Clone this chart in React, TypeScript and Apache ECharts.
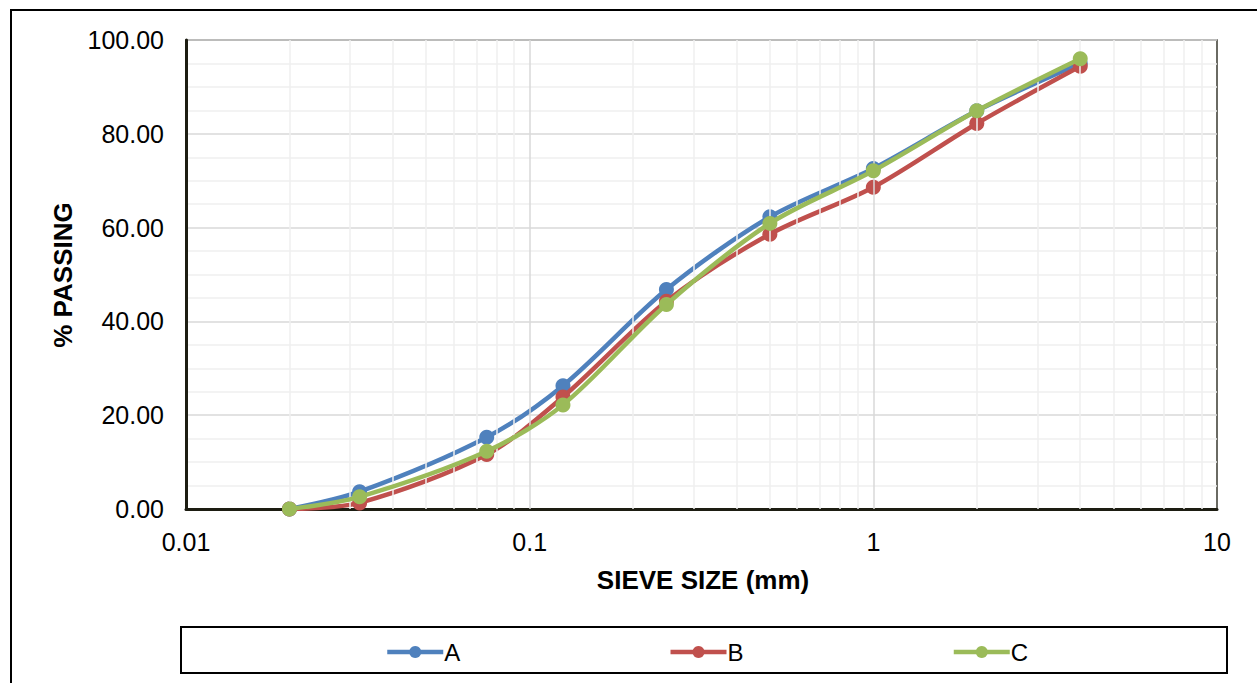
import React, { useEffect, useRef } from "react";
import * as echarts from "echarts";

const sieveSizes = [0.02, 0.032, 0.075, 0.125, 0.25, 0.5, 1, 2, 4];
const passingA = [0, 3.7, 15.3, 26.3, 46.8, 62.3, 72.6, 84.9, 95.0];
const passingB = [0, 1.3, 11.6, 23.9, 44.3, 58.6, 68.6, 82.2, 94.4];
const passingC = [0, 2.6, 12.3, 22.2, 43.6, 60.9, 72.1, 84.9, 96.0];
const seriesNames = ["A", "B", "C"];
const seriesColors = ["#4f81bd", "#c0504d", "#9bbb59"];
const minorX = [
  0.02, 0.03, 0.04, 0.05, 0.06, 0.07, 0.08, 0.09,
  0.2, 0.3, 0.4, 0.5, 0.6, 0.7, 0.8, 0.9,
  2, 3, 4, 5, 6, 7, 8, 9,
];
const majorX = [0.1, 1];

const FONT = "'Liberation Sans', Arial, sans-serif";

export default function App() {
  const ref = useRef<HTMLDivElement>(null);
  useEffect(() => {
    if (!ref.current) return;
    const chart = echarts.init(ref.current, undefined, { renderer: "svg" });
    const values = [passingA, passingB, passingC];
    const mkData = (arr: number[]) => sieveSizes.map((s, i) => [s, arr[i]]);
    chart.setOption({
      animation: false,
      backgroundColor: "#ffffff",
      grid: {
        left: 186,
        top: 40,
        right: 40,
        bottom: 174,
        show: true,
        borderColor: "#3a3a30",
        borderWidth: 1.5,
      },
      xAxis: {
        type: "log",
        logBase: 10,
        min: 0.01,
        max: 10,
        axisLine: { show: true, onZero: false, lineStyle: { color: "#1d1d12", width: 3 } },
        axisTick: { show: false },
        splitLine: { show: false },
        axisLabel: {
          color: "#000",
          fontFamily: FONT,
          fontSize: 25,
          margin: 20,
          formatter: (v: number) => String(Number(v.toPrecision(3))),
        },
      },
      yAxis: {
        type: "value",
        min: 0,
        max: 100,
        interval: 20,
        axisLine: { show: true, lineStyle: { color: "#1d1d12", width: 3 } },
        axisTick: { show: false },
        splitLine: { show: true, lineStyle: { color: "#d9d9d9", width: 1.5 } },
        minorTick: { show: false, splitNumber: 4 },
        minorSplitLine: { show: true, lineStyle: { color: "#efefef", width: 1.5 } },
        axisLabel: {
          color: "#000",
          fontFamily: FONT,
          fontSize: 25,
          margin: 22,
          formatter: (v: number) => v.toFixed(2),
        },
      },
      legend: {
        data: seriesNames,
        left: 380,
        top: 635,
        itemWidth: 56,
        itemHeight: 15,
        itemGap: 208,
        lineStyle: { width: 4.5 },
        textStyle: { color: "#000", fontFamily: FONT, fontSize: 24, padding: [0, 0, 0, -4] },
      },
      graphic: [
        {
          type: "rect",
          shape: { x: 11, y: 10, width: 1300, height: 720 },
          style: { fill: "none", stroke: "#000", lineWidth: 2 },
          silent: true,
        },
        {
          type: "rect",
          shape: { x: 181, y: 627, width: 1046, height: 46 },
          style: { fill: "none", stroke: "#000", lineWidth: 2 },
          silent: true,
        },
        {
          type: "text",
          x: 703,
          y: 580,
          style: {
            text: "SIEVE SIZE (mm)",
            fontFamily: FONT,
            fontSize: 26,
            fontWeight: "bold",
            fill: "#000",
            align: "center",
            verticalAlign: "middle",
          },
        },
        {
          type: "text",
          x: 63,
          y: 275,
          rotation: Math.PI / 2,
          style: {
            text: "% PASSING",
            fontFamily: FONT,
            fontSize: 26,
            fontWeight: "bold",
            fill: "#000",
            align: "center",
            verticalAlign: "middle",
          },
        },
      ],
      series: [
        {
          type: "line",
          name: "grid-lines",
          data: [],
          z: 1,
          silent: true,
          markLine: {
            silent: true,
            symbol: "none",
            label: { show: false },
            animation: false,
            data: [
              ...minorX.map((v) => ({ xAxis: v, lineStyle: { color: "#efefef", width: 1.5, type: "solid" } })),
              ...majorX.map((v) => ({ xAxis: v, lineStyle: { color: "#d9d9d9", width: 1.5, type: "solid" } })),
            ],
          },
        },
        ...seriesNames.map((name, i) => ({
          type: "line",
          name,
          data: mkData(values[i]),
          smooth: 0.3,
          symbol: "circle",
          symbolSize: 15,
          z: 3 + i,
          lineStyle: { color: seriesColors[i], width: 4.5 },
          itemStyle: { color: seriesColors[i] },
        })),
      ],
    });
    return () => chart.dispose();
  }, []);
  return (
    <div
      ref={ref}
      style={{ position: "absolute", left: 0, top: 0, width: 1257, height: 683 }}
    />
  );
}
